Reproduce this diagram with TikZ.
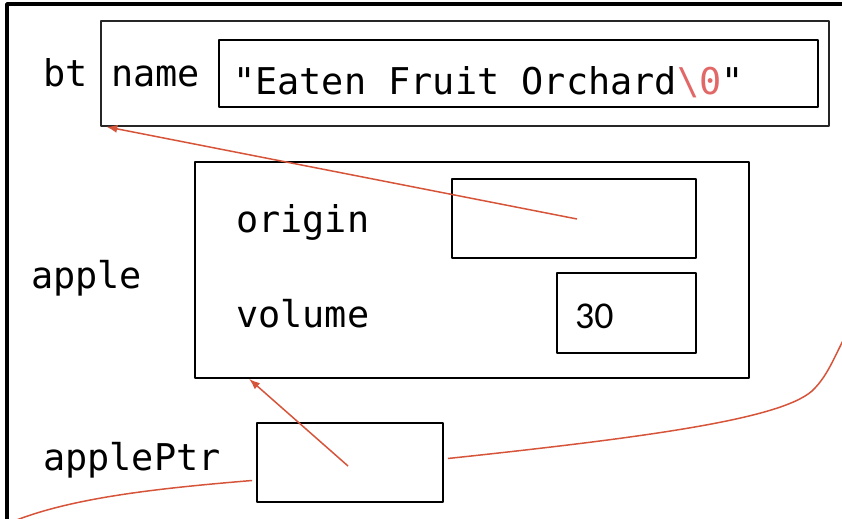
\documentclass[tikz,border=0pt]{standalone}
\usepackage{fontspec}
\setmonofont{DejaVu Sans Mono}
\newfontfamily\numfont{Carlito}
\usetikzlibrary{arrows.meta}
\definecolor{linkred}{RGB}{214,84,58}
\definecolor{nullred}{RGB}{226,104,104}
\begin{document}
\begin{tikzpicture}[>={Latex[length=11bp,width=8bp]},line join=bevel,
  cell/.style={draw,line width=1.8bp,inner sep=0pt},
  lbl/.style={font=\ttfamily\fontsize{37}{44}\selectfont,anchor=base west,inner sep=0pt},
  link/.style={draw=linkred,line width=1.5bp}]
%%
\useasboundingbox (0bp,0bp) rectangle (842bp,519bp);
\clip (0bp,0bp) rectangle (842bp,519bp);
\draw [line width=3.5bp] (7bp,-60bp) -- (7bp,515bp) -- (900bp,515bp);
%
\node (bt_box) at (465.0bp,445.5bp) [cell,line width=1.5bp,draw=black!85,minimum width=728bp,minimum height=105bp] {};
  \node (name_val) at (518.5bp,445.5bp) [cell,minimum width=599bp,minimum height=67bp] {};
  \node (apple_box) at (472.0bp,249.0bp) [cell,minimum width=554bp,minimum height=216bp] {};
  \node (origin_box) at (574.0bp,300.5bp) [cell,minimum width=244bp,minimum height=79bp] {};
  \node (volume_box) at (626.5bp,206.0bp) [cell,minimum width=139bp,minimum height=80bp] {};
  \node (ptr_box) at (350.0bp,56.5bp) [cell,minimum width=186bp,minimum height=79bp] {};
%
\node (bt_lbl) at (43.0bp,432.0bp) [lbl] {bt};
  \node (name_lbl) at (111.0bp,432.0bp) [lbl] {name};
  \node (name_str) at (233.0bp,424.0bp) [lbl] {"Eaten Fruit Orchard{\color{nullred}\textbackslash 0}"};
  \node (apple_lbl) at (31.0bp,230.0bp) [lbl] {apple};
  \node (origin_lbl) at (236.0bp,286.0bp) [lbl] {origin};
  \node (volume_lbl) at (236.0bp,191.0bp) [lbl] {volume};
  \node (volume_val) at (575.0bp,190.0bp) [lbl,font=\numfont\fontsize{38}{44}\selectfont] {30};
  \node (ptr_lbl) at (43.0bp,48.0bp) [lbl] {applePtr};
%
\coordinate (origin_ptr) at (577.0bp,300.0bp);
  \coordinate (apple_ptr) at (348.0bp,53.0bp);
  \coordinate (off_right) at (852.0bp,195.0bp);
  \coordinate (off_left) at (0.0bp,-8.0bp);
  \draw [link,->] (origin_ptr) -- ([xshift=6bp]bt_box.south west);
  \draw [link,->] (apple_ptr) -- ([xshift=55bp]apple_box.south west);
  \draw [link] ([xshift=4bp,yshift=4bp]ptr_box.east) ..controls (650bp,82bp) and (780bp,100bp) .. (812bp,128bp)
    ..controls (830bp,145bp) and (836bp,168bp) .. (off_right);
  \draw [link] ([xshift=-4bp,yshift=-18bp]ptr_box.east -| ptr_box.west) ..controls (150bp,30bp) and (60bp,20bp) .. (off_left);
%
\end{tikzpicture}
\end{document}
